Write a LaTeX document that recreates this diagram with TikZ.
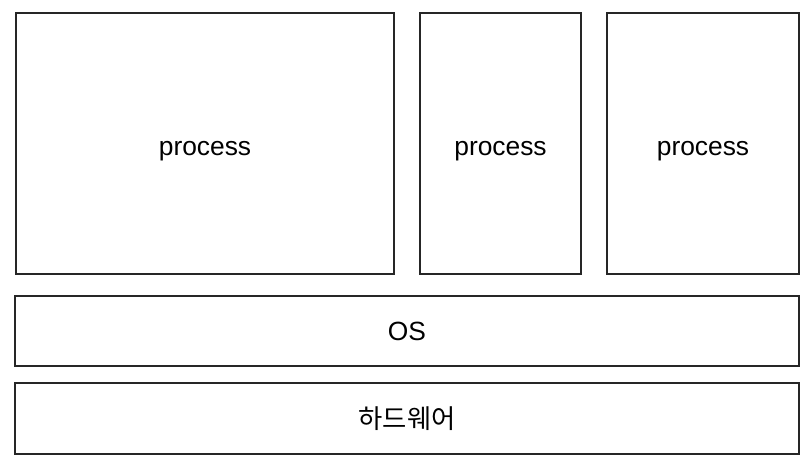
\documentclass[tikz,border=0pt]{standalone}
\usepackage{fontspec}
\setmainfont{Liberation Sans}
\newfontfamily\krfont{Noto Sans CJK KR}
\tikzset{
  layer/.style={draw=black!85, line width=0.6pt, inner sep=0pt, font=\fontsize{15}{18}\selectfont},
  proc/.style={layer, minimum height=261*0.02cm, text height=0.56cm, text depth=0.1cm},
}

\begin{document}
\begin{tikzpicture}[x=0.02cm, y=-0.02cm]
\useasboundingbox (0,0) rectangle (812,468);
% processes on top
\node[proc, minimum width=378*0.02cm] (proc1) at (205,143.5) {process};
\node[proc, minimum width=161*0.02cm] (proc2) at (500.5,143.5) {process};
\node[proc, minimum width=192*0.02cm] (proc3) at (703,143.5) {process};
% os and hardware
\node[layer, minimum width=784*0.02cm, minimum height=70*0.02cm] (os) at (407,331) {OS};
\node[layer, minimum width=784*0.02cm, minimum height=71*0.02cm] (hw) at (407,418.5) {\krfont 하드웨어};
\end{tikzpicture}
\end{document}
